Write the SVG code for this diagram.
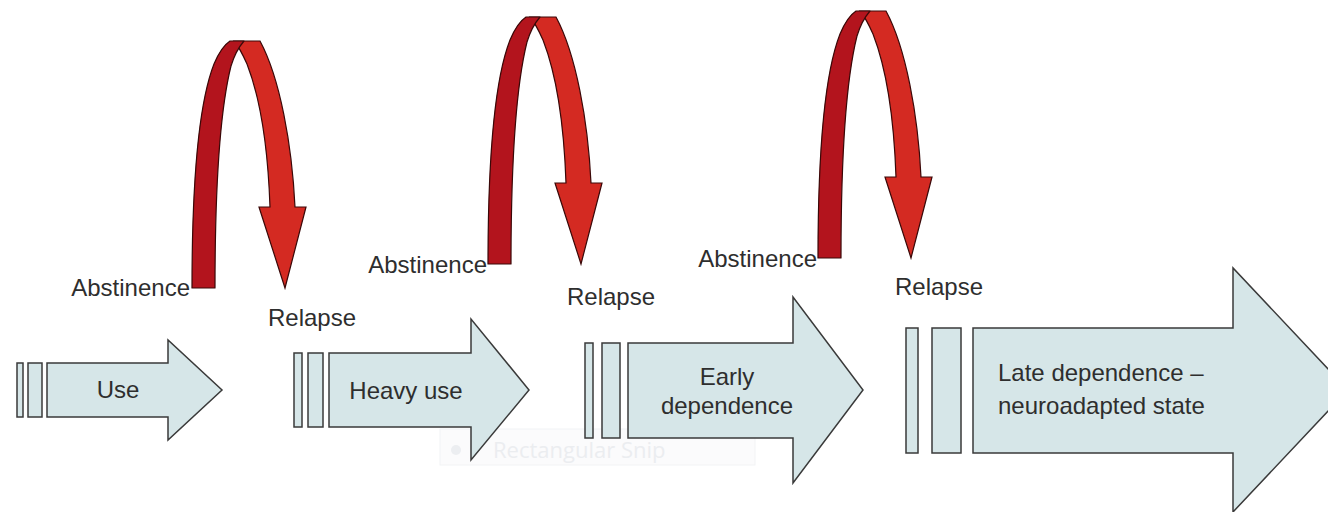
<svg xmlns="http://www.w3.org/2000/svg" xmlns:xlink="http://www.w3.org/1999/xlink" width="1328" height="512" viewBox="0 0 1328 512">
  <style>
    .blk { fill: #d6e6e8; stroke: #3a3a3a; stroke-width: 1.5; stroke-linejoin: miter; }
    .txt { font-family: "Liberation Sans", Arial, sans-serif; font-size: 24px; fill: #2e2e2e; }
    .lbl { font-family: "Liberation Sans", Arial, sans-serif; font-size: 24px; fill: #2e2e2e; }
    .legL { fill: #b3141d; stroke: #3a0808; stroke-width: 1.2; stroke-linejoin: round; }
    .legR { fill: #d42a22; stroke: #3a0808; stroke-width: 1.2; stroke-linejoin: miter; }
    .snip { font-family: "Open Sans", "Liberation Sans", sans-serif; font-size: 22px; fill: #ebedf0; }
  </style>
  <defs>
    <g id="loop">
      <path class="legR" d="M234,41 L260,41 C280,78 292,145 295,207 L306,207 L285,288 L259,207 L270,207 C268,150 261,100 247,64 C243,55 239,47 234,41 Z"/>
      <path class="legL" d="M192,288 C192,200 196,110 214,64 C219,52 224,45 230,41 L244,41 C238,48 234,56 231,66 C220,110 215,190 215,288 Z"/>
    </g>
  </defs>
  <rect width="1328" height="512" fill="#ffffff"/>

  <!-- faint screenshot artifact -->
  <g id="snip-artifact">
    <rect x="440" y="429" width="315" height="36" fill="#fbfbfc" stroke="#f2f3f5" stroke-width="1"/>
    <circle cx="456" cy="450" r="5" fill="#eceef1"/>
    <text class="snip" x="493" y="458">Rectangular Snip</text>
  </g>

  <g id="node-use">
    <rect class="blk" x="17" y="363" width="6" height="54"/>
    <rect class="blk" x="28" y="363" width="14" height="54"/>
    <path class="blk" d="M47,363 L168,363 L168,340 L222,390 L168,440 L168,417 L47,417 Z"/>
    <text class="txt" x="118" y="398" text-anchor="middle">Use</text>
  </g>

  <g id="node-heavy-use">
    <rect class="blk" x="294" y="353" width="8" height="74"/>
    <rect class="blk" x="308" y="353" width="15" height="74"/>
    <path class="blk" d="M329,353 L471,353 L471,319 L529,390 L471,460 L471,427 L329,427 Z"/>
    <text class="txt" x="406" y="399" text-anchor="middle">Heavy use</text>
  </g>

  <g id="node-early-dependence">
    <rect class="blk" x="585" y="343" width="8" height="95"/>
    <rect class="blk" x="602" y="343" width="18" height="95"/>
    <path class="blk" d="M628,343 L793,343 L793,297 L863,390 L793,483 L793,438 L628,438 Z"/>
    <text class="txt" x="727" y="385" text-anchor="middle">Early</text>
    <text class="txt" x="727" y="414" text-anchor="middle">dependence</text>
  </g>

  <g id="node-late-dependence">
    <rect class="blk" x="906" y="328" width="12" height="125"/>
    <rect class="blk" x="932" y="328" width="29" height="125"/>
    <path class="blk" d="M973,328 L1233,328 L1233,268 L1348,390 L1233,512 L1233,453 L973,453 Z"/>
    <text class="txt" x="998" y="381">Late dependence –</text>
    <text class="txt" x="998" y="414">neuroadapted state</text>
  </g>

  <g id="connectors">
    <use xlink:href="#loop" href="#loop"/>
    <use xlink:href="#loop" href="#loop" transform="translate(296,-24)"/>
    <use xlink:href="#loop" href="#loop" transform="translate(626,-30)"/>
  </g>

  <g id="labels">
    <text class="lbl" x="190" y="296" text-anchor="end">Abstinence</text>
    <text class="lbl" x="268" y="326">Relapse</text>
    <text class="lbl" x="487" y="273" text-anchor="end">Abstinence</text>
    <text class="lbl" x="567" y="305">Relapse</text>
    <text class="lbl" x="817" y="267" text-anchor="end">Abstinence</text>
    <text class="lbl" x="895" y="295">Relapse</text>
  </g>
</svg>
